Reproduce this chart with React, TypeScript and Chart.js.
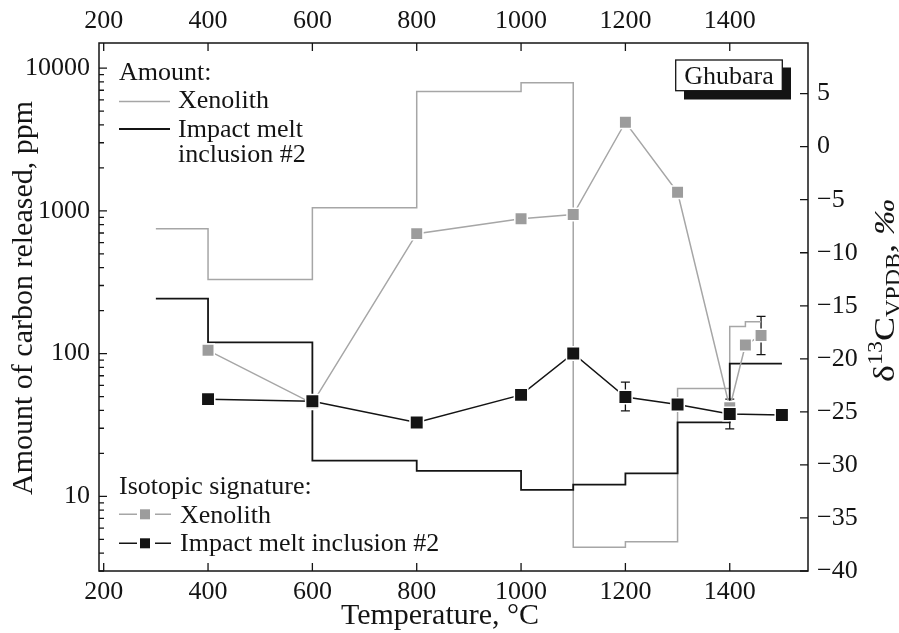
import React, { useEffect, useRef } from 'react';
import { Chart, registerables } from 'chart.js';

Chart.register(...registerables);

const FONT = '"Liberation Serif", "Times New Roman", serif';

// Amount of carbon released (ppm), step intervals (°C)
const xenoAmountEdges = [300, 400, 600, 800, 1000, 1100, 1200, 1300, 1400, 1430, 1460];
const xenoAmount = [750, 330, 1050, 6850, 7900, 4.4, 4.8, 57, 155, 167];
const meltAmountEdges = [300, 400, 600, 800, 1000, 1100, 1200, 1300, 1400, 1500];
const meltAmount = [243, 120, 17.8, 15.1, 11.1, 12.1, 14.5, 33, 85];

// Isotopic signature δ13C (‰)
const xenoIsoTemps = [400, 600, 800, 1000, 1100, 1200, 1300, 1400, 1430, 1460];
const xenoIso = [-19.2, -24.2, -8.2, -6.8, -6.4, 2.3, -4.3, -24.6, -18.7, -17.8];
const meltIsoTemps = [400, 600, 800, 1000, 1100, 1200, 1300, 1400, 1500];
const meltIso = [-23.8, -24.0, -26.0, -23.4, -19.5, -23.6, -24.3, -25.2, -25.3];

// Error bars
const errTemps = [1200, 1400, 1460];
const errLow = [-24.9, -26.6, -19.6];
const errHigh = [-22.2, -23.8, -16.0];

// Axis ticks
const xTicks = [200, 400, 600, 800, 1000, 1200, 1400];
const leftMajor = [10, 100, 1000, 10000];
const rightTicks = [5, 0, -5, -10, -15, -20, -25, -30, -35, -40];

const GRAY_LINE = '#a6a6a6';
const GRAY_MARK = '#9c9c9c';
const BLACK = '#141414';

function stepPoints(edges: number[], vals: number[]) {
  const pts: { x: number; y: number }[] = [];
  for (let i = 0; i < vals.length; i++) {
    pts.push({ x: edges[i], y: vals[i] });
    pts.push({ x: edges[i + 1], y: vals[i] });
  }
  return pts;
}

function zip(xs: number[], ys: number[]) {
  return xs.map((x, i) => ({ x, y: ys[i] }));
}

const decoPlugin = {
  id: 'deco',
  beforeDatasetsDraw(chart: any) {
    const ctx = chart.ctx;
    const xs = chart.scales.x;
    const ys = chart.scales.y2;
    ctx.save();
    ctx.strokeStyle = BLACK;
    ctx.lineWidth = 1.3;
    errTemps.forEach((t, i) => {
      const px = xs.getPixelForValue(t);
      const y1 = ys.getPixelForValue(errLow[i]);
      const y2 = ys.getPixelForValue(errHigh[i]);
      ctx.beginPath();
      ctx.moveTo(px, y1);
      ctx.lineTo(px, y2);
      ctx.moveTo(px - 4.5, y1);
      ctx.lineTo(px + 4.5, y1);
      ctx.moveTo(px - 4.5, y2);
      ctx.lineTo(px + 4.5, y2);
      ctx.stroke();
    });
    ctx.restore();
  },
  afterDraw(chart: any) {
    const ctx = chart.ctx;
    const a = chart.chartArea;
    const xs = chart.scales.x;
    const yl = chart.scales.y;
    const yr = chart.scales.y2;
    ctx.save();
    // frame
    ctx.strokeStyle = BLACK;
    ctx.lineWidth = 1.5;
    ctx.strokeRect(a.left, a.top, a.right - a.left, a.bottom - a.top);
    // ticks
    ctx.lineWidth = 1.3;
    ctx.beginPath();
    xTicks.forEach((v) => {
      const px = xs.getPixelForValue(v);
      ctx.moveTo(px, a.bottom);
      ctx.lineTo(px, a.bottom - 8);
      ctx.moveTo(px, a.top);
      ctx.lineTo(px, a.top + 8);
    });
    leftMajor.forEach((v) => {
      const py = yl.getPixelForValue(v);
      ctx.moveTo(a.left, py);
      ctx.lineTo(a.left + 8, py);
    });
    [1, 10, 100, 1000, 10000].forEach((d) => {
      for (let m = 2; m <= 9; m++) {
        const v = m * d;
        if (v < yl.min || v > yl.max) continue;
        const py = yl.getPixelForValue(v);
        ctx.moveTo(a.left, py);
        ctx.lineTo(a.left + 5, py);
      }
    });
    rightTicks.forEach((v) => {
      const py = yr.getPixelForValue(v);
      ctx.moveTo(a.right, py);
      ctx.lineTo(a.right - 8, py);
    });
    ctx.stroke();

    // legends
    ctx.fillStyle = BLACK;
    ctx.textAlign = 'left';
    ctx.textBaseline = 'alphabetic';
    ctx.font = `26px ${FONT}`;
    ctx.fillText('Amount:', 119, 80);
    ctx.fillText('Xenolith', 178, 108);
    ctx.fillText('Impact melt', 178, 137);
    ctx.fillText('inclusion #2', 178, 162);
    ctx.lineWidth = 1.5;
    ctx.strokeStyle = GRAY_LINE;
    ctx.beginPath();
    ctx.moveTo(119, 101.5);
    ctx.lineTo(170, 101.5);
    ctx.stroke();
    ctx.strokeStyle = BLACK;
    ctx.lineWidth = 1.8;
    ctx.beginPath();
    ctx.moveTo(119, 129);
    ctx.lineTo(170, 129);
    ctx.stroke();

    ctx.fillText('Isotopic signature:', 119, 494);
    ctx.fillText('Xenolith', 180, 522.5);
    ctx.fillText('Impact melt inclusion #2', 180, 550.5);
    const legMark = (y: number, line: string, fill: string) => {
      ctx.strokeStyle = line;
      ctx.lineWidth = 1.5;
      ctx.beginPath();
      ctx.moveTo(119, y);
      ctx.lineTo(137, y);
      ctx.moveTo(155, y);
      ctx.lineTo(171, y);
      ctx.stroke();
      ctx.fillStyle = fill;
      ctx.fillRect(140, y - 5, 10, 10);
    };
    legMark(514.3, GRAY_LINE, GRAY_MARK);
    legMark(543.3, BLACK, BLACK);

    // Ghubara box
    ctx.fillStyle = BLACK;
    ctx.fillRect(684, 67.5, 107, 32);
    ctx.fillStyle = '#fff';
    ctx.fillRect(675.7, 60, 106.6, 30.7);
    ctx.strokeStyle = BLACK;
    ctx.lineWidth = 1.3;
    ctx.strokeRect(675.7, 60, 106.6, 30.7);
    ctx.fillStyle = BLACK;
    ctx.textAlign = 'center';
    ctx.font = `26px ${FONT}`;
    ctx.fillText('Ghubara', 729, 84);

    // axis titles
    ctx.font = `30px ${FONT}`;
    ctx.textAlign = 'center';
    ctx.fillText('Temperature, °C', 440, 624);

    ctx.save();
    ctx.translate(32, 495);
    ctx.rotate(-Math.PI / 2);
    ctx.textAlign = 'left';
    ctx.fillText('Amount of carbon released, ppm', 0, 0);
    ctx.restore();

    ctx.save();
    ctx.translate(894, 382);
    ctx.rotate(-Math.PI / 2);
    ctx.scale(1.2, 1);
    ctx.textAlign = 'left';
    let cx = 0;
    const part = (txt: string, size: number, dy: number, italic = false) => {
      ctx.font = `${italic ? 'italic ' : ''}${size}px ${FONT}`;
      ctx.fillText(txt, cx, dy);
      cx += ctx.measureText(txt).width;
    };
    part('δ', 30, 0);
    part('13', 20, -12);
    part('C', 30, 0);
    part('VPDB', 20, 6);
    part(', ‰', 30, 0, true);
    ctx.restore();

    ctx.restore();
  },
};

export default function App() {
  const ref = useRef<HTMLCanvasElement>(null);
  useEffect(() => {
    document.body.style.margin = '0';
    const canvas = ref.current!;
    const tickFont = { family: FONT, size: 26 };
    const chart = new Chart(canvas, {
      type: 'line',
      data: {
        datasets: [
          {
            label: 'Amount xenolith',
            data: stepPoints(xenoAmountEdges, xenoAmount),
            xAxisID: 'x',
            yAxisID: 'y',
            borderColor: GRAY_LINE,
            borderWidth: 1.5,
            pointRadius: 0,
            tension: 0,
            order: 3,
          },
          {
            label: 'Amount melt',
            data: stepPoints(meltAmountEdges, meltAmount),
            xAxisID: 'x',
            yAxisID: 'y',
            borderColor: BLACK,
            borderWidth: 1.8,
            pointRadius: 0,
            tension: 0,
            order: 2,
          },
          {
            label: 'Iso xenolith',
            data: zip(xenoIsoTemps, xenoIso),
            xAxisID: 'x',
            yAxisID: 'y2',
            borderColor: GRAY_LINE,
            borderWidth: 1.5,
            pointStyle: 'rect',
            pointRadius: 8.8,
            pointBackgroundColor: GRAY_MARK,
            pointBorderColor: '#ffffff',
            pointBorderWidth: 1.5,
            tension: 0,
            order: 1,
          },
          {
            label: 'Iso melt',
            data: zip(meltIsoTemps, meltIso),
            xAxisID: 'x',
            yAxisID: 'y2',
            borderColor: BLACK,
            borderWidth: 1.5,
            pointStyle: 'rect',
            pointRadius: 9.5,
            pointBackgroundColor: BLACK,
            pointBorderColor: '#ffffff',
            pointBorderWidth: 1.5,
            tension: 0,
            order: 0,
          },
        ] as any,
      },
      options: {
        animation: false,
        responsive: false,
        devicePixelRatio: 1,
        events: [],
        layout: { padding: 0 },
        plugins: { legend: { display: false }, tooltip: { enabled: false } },
        scales: {
          x: {
            type: 'linear',
            position: 'bottom',
            min: 191,
            max: 1550,
            grid: { display: false, drawTicks: false },
            border: { display: false },
            ticks: { font: tickFont, color: BLACK, padding: 6, autoSkip: false, maxRotation: 0, callback: (v: any) => String(v) },
            afterBuildTicks: (s: any) => { s.ticks = xTicks.map((v) => ({ value: v })); },
            afterFit: (s: any) => { s.height = 62; },
          },
          x2: {
            type: 'linear',
            position: 'top',
            min: 191,
            max: 1550,
            grid: { display: false, drawTicks: false },
            border: { display: false },
            ticks: { font: tickFont, color: BLACK, padding: 6, autoSkip: false, maxRotation: 0, callback: (v: any) => String(v) },
            afterBuildTicks: (s: any) => { s.ticks = xTicks.map((v) => ({ value: v })); },
            afterFit: (s: any) => { s.height = 43; },
          },
          y: {
            type: 'logarithmic',
            position: 'left',
            min: 3,
            max: 15000,
            grid: { display: false, drawTicks: false },
            border: { display: false },
            ticks: { font: tickFont, color: BLACK, padding: 9, autoSkip: false, callback: (v: any) => String(v) },
            afterBuildTicks: (s: any) => { s.ticks = leftMajor.map((v) => ({ value: v })); },
            afterFit: (s: any) => { s.width = 99; },
          },
          y2: {
            type: 'linear',
            position: 'right',
            min: -40,
            max: 9.77,
            grid: { display: false, drawTicks: false },
            border: { display: false },
            ticks: {
              font: tickFont,
              color: BLACK,
              padding: 9,
              autoSkip: false,
              callback: (v: any) => (v < 0 ? '−' + Math.abs(v) : String(v)),
            },
            afterBuildTicks: (s: any) => { s.ticks = rightTicks.map((v) => ({ value: v })); },
            afterFit: (s: any) => { s.width = 91; },
          },
        },
      } as any,
      plugins: [decoPlugin],
    });
    return () => chart.destroy();
  }, []);
  return (
    <div style={{ width: 899, height: 633 }}>
      <canvas ref={ref} width={899} height={633} style={{ display: 'block' }} />
    </div>
  );
}
